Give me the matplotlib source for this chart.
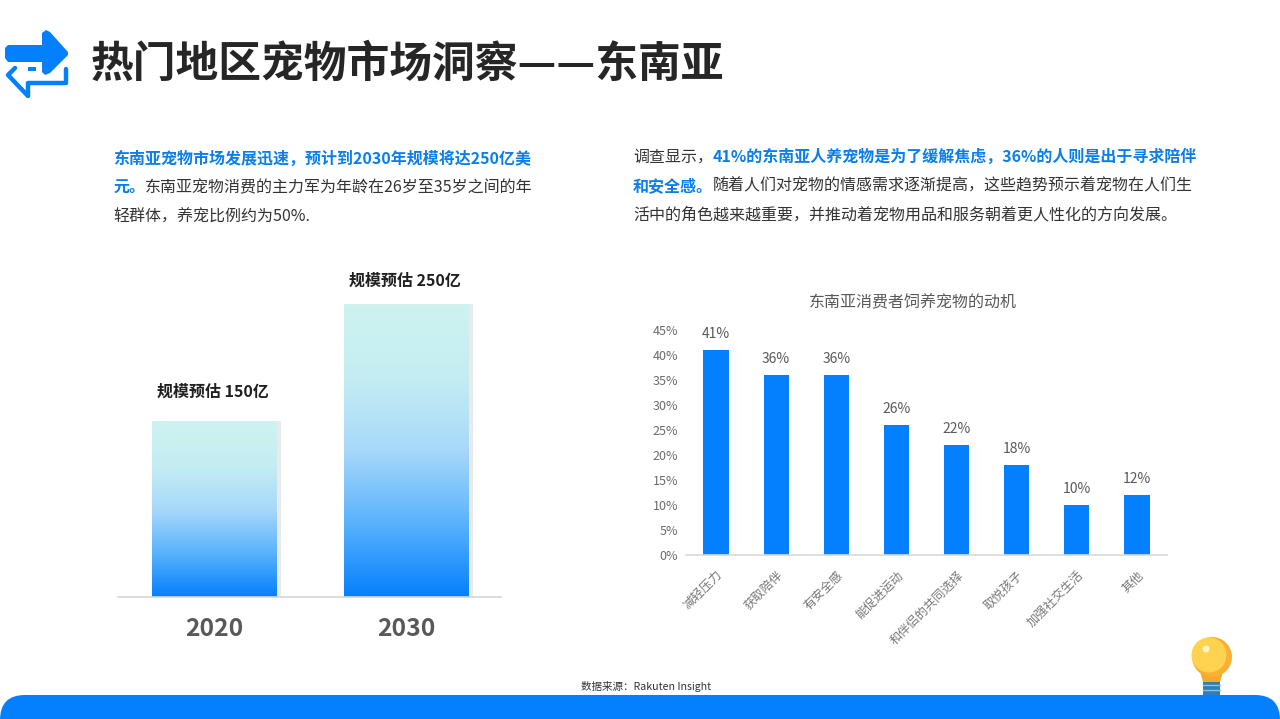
import numpy as np
import matplotlib
matplotlib.use('Agg')
import matplotlib.pyplot as plt
from matplotlib.patches import Polygon, Circle, Rectangle, FancyBboxPatch, Ellipse
import matplotlib.patheffects as pe

plt.rcParams['font.family'] = ['Noto Sans CJK SC', 'DejaVu Sans']

W, H = 1280, 719
BLUE = '#0480FE'
TEXT_BLUE = '#0A7EEB'

title = '热门地区宠物市场洞察——东南亚'
source = '数据来源：Rakuten Insight'

left_runs = [
    [('东南亚宠物市场发展迅速，预计到2030年规模将达250亿美', True)],
    [('元。', True), ('东南亚宠物消费的主力军为年龄在26岁至35岁之间的年', False)],
    [('轻群体，养宠比例约为50%.', False)],
]
right_runs = [
    [('调查显示，', False), ('41%的东南亚人养宠物是为了缓解焦虑，36%的人则是出于寻求陪伴', True)],
    [('和安全感。', True), ('随着人们对宠物的情感需求逐渐提高，这些趋势预示着宠物在人们生', False)],
    [('活中的角色越来越重要，并推动着宠物用品和服务朝着更人性化的方向发展。', False)],
]

years = ['2020', '2030']
market = [150, 250]
market_labels = ['规模预估 150亿', '规模预估 250亿']

motive_title = '东南亚消费者饲养宠物的动机'
motives = ['减轻压力', '获取陪伴', '有安全感', '能促进运动', '和伴侣的共同选择', '取悦孩子', '加强社交生活', '其他']
motive_pct = [41, 36, 36, 26, 22, 18, 10, 12]
pct_ticks = [0, 5, 10, 15, 20, 25, 30, 35, 40, 45]


def px_axes(fig, x0, y0, x1, y1, **kw):
    # pixel box with y measured from the top of the picture
    return fig.add_axes([x0 / W, 1 - y1 / H, (x1 - x0) / W, (y1 - y0) / H], **kw)


def draw_runs(bg, fig, x, y, runs):
    r = fig.canvas.get_renderer()
    for s, bold in runs:
        t = bg.text(x, y, s, fontsize=11.5, va='center', ha='left',
                    color=TEXT_BLUE if bold else '#333333',
                    fontweight='bold' if bold else 'normal')
        x += t.get_window_extent(r).width


fig = plt.figure(figsize=(W / 100, H / 100), dpi=100, facecolor='white')

bg = fig.add_axes([0, 0, 1, 1], zorder=0)
bg.set_xlim(0, W)
bg.set_ylim(H, 0)
bg.axis('off')

# top left arrows
bg.add_patch(Polygon([(8, 45), (42, 45), (42, 33), (46, 30), (50, 32), (68, 52), (68, 55),
                      (50, 73), (45, 75), (42, 72), (42, 62), (8, 62), (5, 58), (5, 48)],
                     closed=True, fc=BLUE, ec='none', zorder=2))
bg.plot([15, 8, 28, 28, 66, 66], [68, 75, 96, 83, 83, 69], color=BLUE, lw=3.2,
        solid_joinstyle='round', solid_capstyle='round', zorder=1)
bg.add_patch(Rectangle((28, 67), 8, 4, fc=BLUE, ec='none'))

bg.text(91, 64, title, fontsize=30.8, fontweight='bold', color='#262626', va='center', ha='left')

for i, runs in enumerate(left_runs):
    draw_runs(bg, fig, 113, 158.5 + i * 29.5, runs)
for i, runs in enumerate(right_runs):
    draw_runs(bg, fig, 633, 157 + i * 29, runs)

# bottom band and bulb
bg.add_patch(FancyBboxPatch((25, 695 + 25), W - 50, 40, boxstyle='round,pad=25',
                            fc=BLUE, ec='none', zorder=2))
bg.add_patch(Rectangle((1203, 680), 17, 16, fc='#2F7FB5', ec='none', zorder=1))
bg.plot([1203, 1220], [685, 685], color='#8CC0DD', lw=1, zorder=1)
bg.plot([1203, 1220], [690, 690], color='#8CC0DD', lw=1, zorder=1)
bg.add_patch(Polygon([(1203, 682), (1220, 682), (1224, 668), (1199, 668)], fc='#F7A92B', ec='none', zorder=1))
bg.add_patch(Circle((1212, 657), 20, fc='#FBB034', ec='none', zorder=1))
bg.add_patch(Circle((1209, 655), 17.5, fc='#FFD34F', ec='none', zorder=1))
bg.add_patch(Ellipse((1206, 649), 7, 7, fc='#FFF4C8', ec='none', zorder=1))

bg.text(646, 687, source, fontsize=7.6, color='#333333', ha='center', va='center')

# left chart
ax1 = px_axes(fig, 118, 260, 501, 597, zorder=1)
ax1.patch.set_alpha(0)
bars = ax1.bar([0, 1], market, width=0.651, color='white', zorder=1,
               path_effects=[pe.SimplePatchShadow(offset=(2.5, 0), shadow_rgbFace='#bbbbbb', alpha=0.3), pe.Normal()])

colors = np.array([[0.81, 0.95, 0.94], [0.77, 0.93, 0.95], [0.66, 0.85, 0.98], [0.35, 0.70, 0.99], [0.02, 0.50, 0.99]])
stops = np.linspace(0, 1, 5)
for b in bars:
    grid = np.linspace(0, 1, 256)
    grad = np.stack([np.interp(grid, stops, colors[:, k]) for k in range(3)], axis=1)[:, None, :]
    im = ax1.imshow(grad, extent=(b.get_x(), b.get_x() + b.get_width(), 0, b.get_height()),
                    aspect='auto', origin='upper', zorder=2)
    im.set_clip_path(b)
ax1.set_xlim(-0.503, 1.492)
ax1.set_ylim(0, 287.5)

# the two captions do not sit at the same height above their bars
label_gaps = [21, 16.5]
for i, v in enumerate(market):
    ax1.annotate(market_labels[i], (i, v), xytext=(-1, label_gaps[i]), textcoords='offset points',
                 ha='center', va='center', fontsize=11.5, fontweight='bold', color='#1f1f1f')

for s in ['top', 'left', 'right']:
    ax1.spines[s].set_visible(False)
ax1.spines['bottom'].set_color('#d6d6d6')
ax1.spines['bottom'].set_linewidth(1.2)
ax1.set_yticks([])
ax1.set_xticks([0, 1])
ax1.set_xticklabels(years, fontsize=17.8, fontweight='bold', color='#595959')
ax1.tick_params(axis='x', length=0, pad=14.5)

# right chart
ax2 = px_axes(fig, 686, 330, 1167, 554.5, zorder=1)
ax2.patch.set_alpha(0)
x = np.arange(len(motives))
ax2.bar(x, motive_pct, width=0.42, color=BLUE)
ax2.set_xlim(-0.5, len(motives) - 0.5)
ax2.set_ylim(0, 45)
for i, v in enumerate(motive_pct):
    ax2.annotate(f'{v}%', (i, v), xytext=(0, 11.5), textcoords='offset points',
                 ha='center', va='center', fontsize=10, color='#595959')

for s in ['top', 'left', 'right']:
    ax2.spines[s].set_visible(False)
ax2.spines['bottom'].set_color('#d9d9d9')
ax2.spines['bottom'].set_linewidth(1.2)
ax2.set_yticks(pct_ticks)
ax2.set_yticklabels([f'{p}%' for p in pct_ticks], fontsize=9, color='#6b6b6b')
ax2.set_xticks(x)
ax2.set_xticklabels(motives, fontsize=8.8, color='#777777', rotation=45, ha='right', rotation_mode='anchor')
ax2.tick_params(axis='both', length=0)
ax2.tick_params(axis='y', pad=5.5)
ax2.tick_params(axis='x', pad=10)

bg.text(913, 302.5, motive_title, fontsize=11.5, color='#595959', ha='center', va='center')

fig.savefig('out.png', dpi=100, facecolor='white')
